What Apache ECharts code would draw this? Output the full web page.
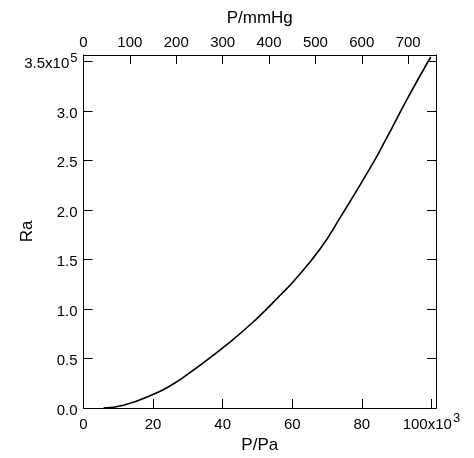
<!DOCTYPE html>
<html>
<head>
<meta charset="utf-8">
<script src="https://cdn.jsdelivr.net/npm/echarts@6/dist/echarts.min.js"></script>
<style>html,body{margin:0;padding:0;background:#fff}#c{width:474px;height:458px}</style>
</head>
<body>
<div id="c"></div>
<script>
// Pressure in kPa (bottom axis labelled in units of 10^3 Pa)
const pressureKPa = [5.76, 11.5, 20.15, 25.9, 30.7, 42.2, 49.9, 56.6, 60.4, 68.1, 73.9, 82.5, 86.8, 93.1, 99.8];
// Rayleigh number in units of 10^5
const rayleigh = [0, 0.027, 0.138, 0.245, 0.36, 0.669, 0.906, 1.141, 1.28, 1.612, 1.93, 2.43, 2.705, 3.126, 3.546];
const bottomTicks = [0, 20, 40, 60, 80, 100];
const topTicks = [0, 100, 200, 300, 400, 500, 600, 700];
const leftTicks = [0, 0.5, 1.0, 1.5, 2.0, 2.5, 3.0, 3.5];

const FONT = 'Liberation Sans, Arial, Helvetica, sans-serif';
const AX = '#000';
const chart = echarts.init(document.getElementById('c'));
const rich = {
  b: {fontSize: 15, fontFamily: FONT, color: '#000', lineHeight: 20, verticalAlign: 'bottom'},
  s: {fontSize: 13, fontFamily: FONT, color: '#000', lineHeight: 20, verticalAlign: 'top', padding: [0, 0, 0, 1]}
};
const axisCommon = {
  axisLine: {show: true, onZero: false, lineStyle: {color: AX, width: 1}},
  axisTick: {show: true, inside: true, length: 9, lineStyle: {color: AX, width: 1}},
  splitLine: {show: false},
  nameMoveOverlap: false,
  nameTextStyle: {fontSize: 17, fontFamily: FONT, color: '#000'}
};
const near = (v, arr) => arr.some(t => Math.abs(t - v) < 1e-6);

chart.setOption({
  animation: false,
  grid: {left: 83.5, right: 38, top: 55, bottom: 50, containLabel: false, outerBoundsMode: 'none'},
  xAxis: [
    Object.assign({}, axisCommon, {
      type: 'value', position: 'bottom', min: 0, max: 101.325, interval: 20,
      name: 'P/Pa', nameLocation: 'middle', nameGap: 29,
      axisLabel: {margin: 4, fontSize: 15, fontFamily: FONT, color: '#000', rich: rich,
        formatter: v => !near(v, bottomTicks) ? '' : (v === 100 ? '{b|100x10}{s|3}' : '{b|' + v + '}')}
    }),
    Object.assign({}, axisCommon, {
      type: 'value', position: 'top', min: 0, max: 760, interval: 100,
      name: 'P/mmHg', nameLocation: 'middle', nameGap: 28,
      axisLabel: {margin: 5, fontSize: 15, fontFamily: FONT, color: '#000',
        formatter: v => near(v, topTicks) ? String(v) : ''}
    })
  ],
  yAxis: [
    Object.assign({}, axisCommon, {
      type: 'value', position: 'left', min: 0, max: 3.566, interval: 0.5,
      name: 'Ra', nameLocation: 'middle', nameGap: 48, nameRotate: 90,
      axisLabel: {margin: 6, fontSize: 15, fontFamily: FONT, color: '#000', rich: rich,
        formatter: v => !near(v, leftTicks) ? '' : (Math.abs(v - 3.5) < 1e-6 ? '{b|3.5x10}{s|5}' : '{b|' + v.toFixed(1) + '}')}
    }),
    Object.assign({}, axisCommon, {
      type: 'value', position: 'right', min: 0, max: 3.566, interval: 0.5,
      axisLabel: {show: false}
    })
  ],
  series: [{
    type: 'line', xAxisIndex: 0, yAxisIndex: 0, smooth: 0.5, symbol: 'none',
    lineStyle: {color: '#000', width: 1.6},
    data: pressureKPa.map((p, i) => [p, rayleigh[i]])
  }]
});
</script>
</body>
</html>
